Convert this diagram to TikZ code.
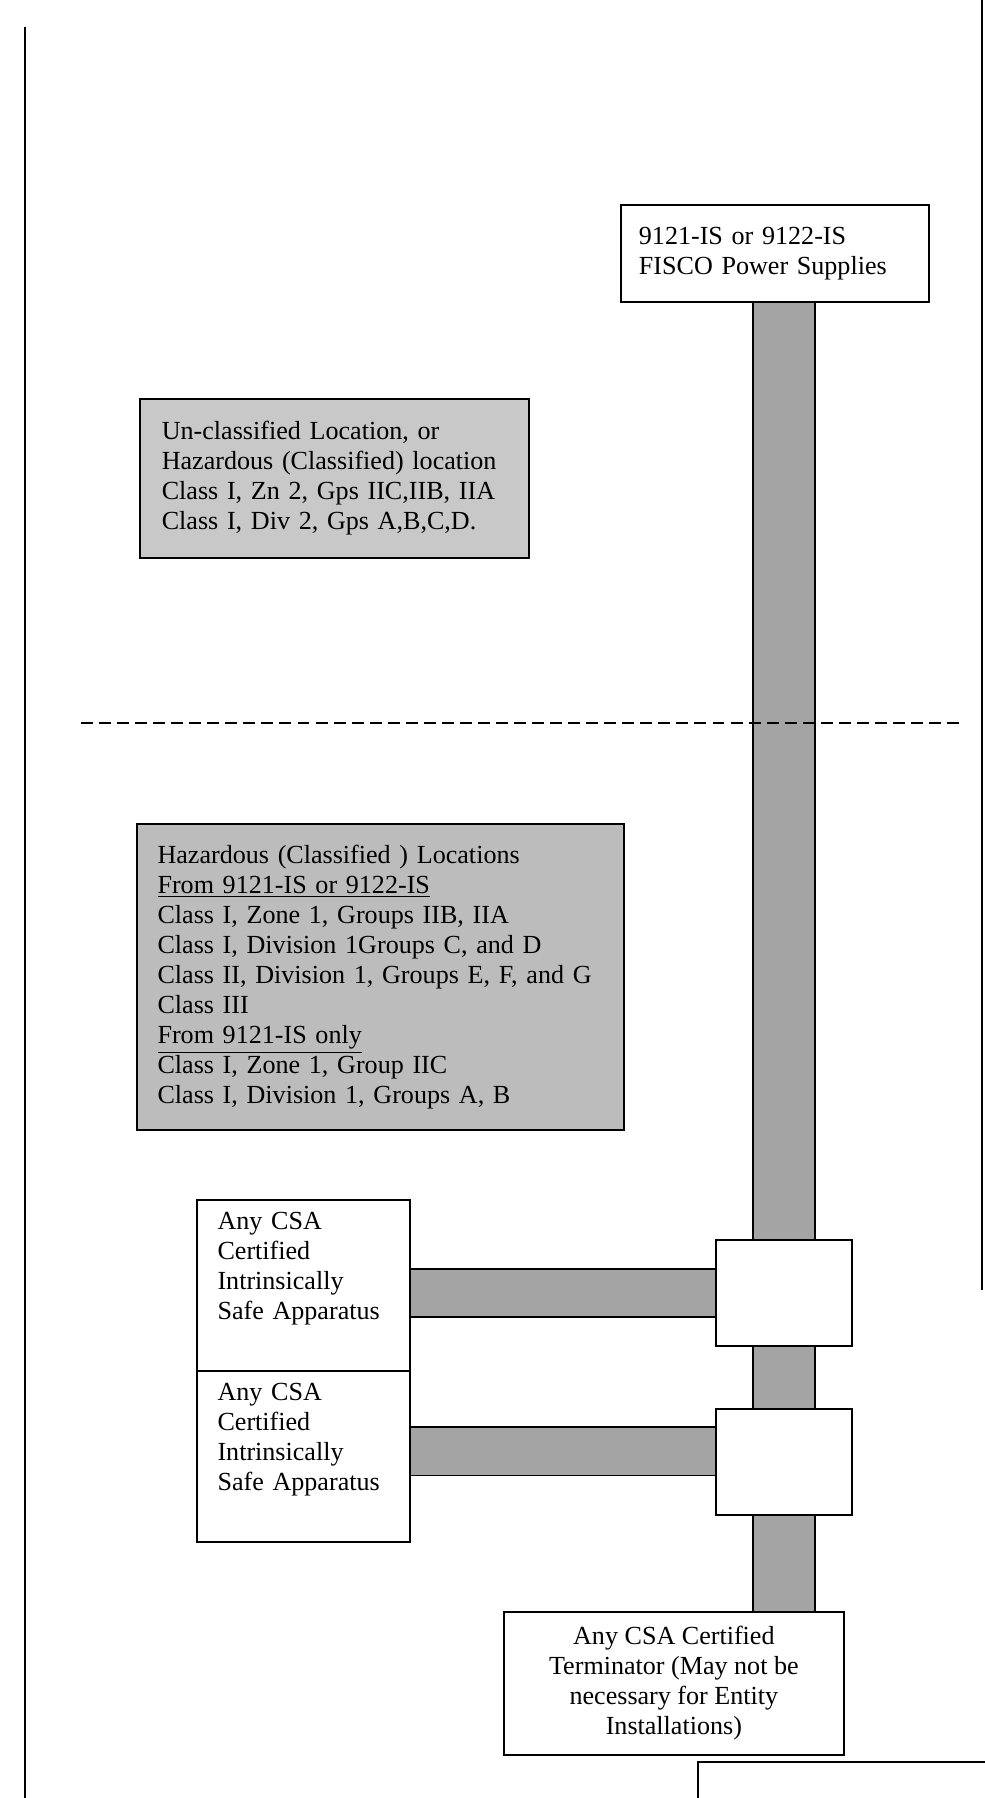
\documentclass[tikz,border=0pt]{standalone}
\usepackage{fontspec}
\setmainfont{Liberation Serif}
\usepackage{tikz}
\usetikzlibrary{backgrounds}
\definecolor{zonegray}{HTML}{C8C8C8}
\definecolor{hazgray}{HTML}{BCBCBC}
\definecolor{busgray}{HTML}{A4A4A4}

\begin{document}
\begin{tikzpicture}[x=0.46pt, y=-0.46pt,
    frame/.style={draw, line width=0.8pt, anchor=north west, inner ysep=0pt, font=\fontsize{12}{13.8}\selectfont},
    note/.style={frame, align=left, inner xsep=9.5pt},
    trunk/.style={line width=0.8pt, double=busgray, double distance=27.8pt},
    spur/.style={line width=0.8pt, double=busgray, double distance=21.4pt}]
    \useasboundingbox (0,0) rectangle (985,1798);

    % page edges
    \draw[line width=0.8pt] (25,27) -- (25,1798);
    \draw[line width=0.8pt] (982,0) -- (982,1290);
    \draw[line width=0.8pt] (985,1762) -- (698,1762) -- (698,1798);

    \node[note, inner xsep=8.3pt, text width=125.1pt, minimum height=44.6pt] (fisco) at (620,204) {9121-IS or 9122-IS\\FISCO Power Supplies};
    \node[note, fill=zonegray, inner xsep=10.1pt, text width=158.7pt, minimum height=73.1pt] (unclass) at (139,398)
        {Un-classified Location, or\\Hazardous (Classified) location\\Class I, Zn 2, Gps IIC,IIB, IIA\\Class I, Div 2, Gps A,B,C,D.};
    \node[note, fill=hazgray, text width=205pt, minimum height=140.8pt] (hazard) at (136,823)
        {Hazardous (Classified ) Locations\\\underline{From 9121-IS or 9122-IS}\\Class I, Zone 1, Groups IIB, IIA\\Class I, Division 1Groups C, and D\\Class II, Division 1, Groups E, F, and G\\Class III\\\underline{From 9121-IS only}\\Class I, Zone 1, Group IIC\\Class I, Division 1, Groups A, B};

    \node[note, text width=79pt, minimum height=78.7pt] (app1) at (196,1199) {Any CSA\\Certified\\Intrinsically\\Safe Apparatus\\ \strut};
    \node[note, text width=79pt, minimum height=78.7pt] (app2) at (196,1370) {Any CSA\\Certified\\Intrinsically\\Safe Apparatus\\ \strut};
    \node[frame, fill=white, minimum width=62.6pt, minimum height=48.8pt] (jb1) at (715,1239) {};
    \node[frame, fill=white, minimum width=62.6pt, minimum height=48.8pt] (jb2) at (715,1408) {};
    \node[frame, align=center, minimum width=156.4pt, minimum height=65.8pt] (term) at (503,1611)
        {Any CSA Certified\\Terminator (May not be\\necessary for Entity\\Installations)};

    \begin{scope}[on background layer]
        \draw[trunk] (fisco.south -| jb1.center) -- (term.north -| jb1.center);
        \draw[spur] (app1.east |- jb1.west) -- (jb1.west);
        \draw[spur] ([yshift=2.3pt]app2.east) -- ([yshift=2.3pt]app2.east -| jb2.west);
    \end{scope}

    % zone boundary
    \draw[line width=0.8pt, dash pattern=on 5.5pt off 2.8pt] (81,723) -- (964,723);
\end{tikzpicture}
\end{document}
